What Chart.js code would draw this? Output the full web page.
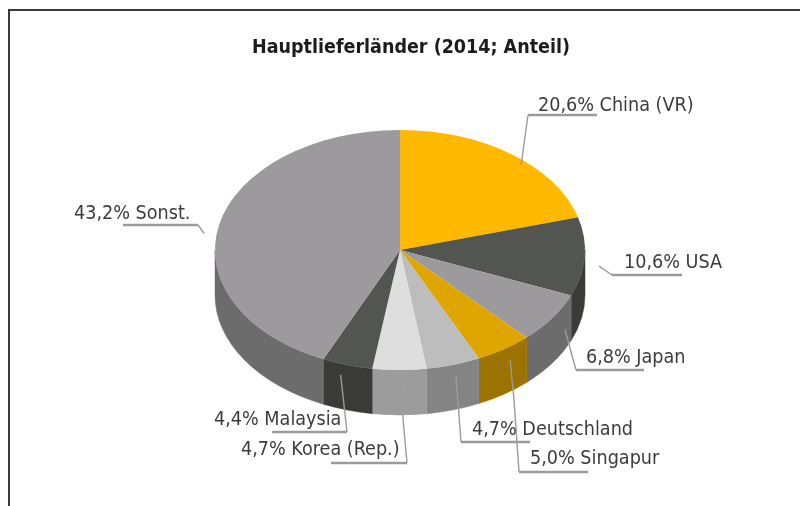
<!DOCTYPE html>
<html>
<head>
<meta charset="utf-8">
<script src="https://cdn.jsdelivr.net/npm/chart.js@4/dist/chart.umd.min.js"></script>
<style>
    html, body { margin: 0; background: #fff; overflow: hidden; }
    #frame { position: absolute; left: 8px; top: 9px; right: 0; bottom: 0;
             border-top: 2px solid #3a3a3a; border-left: 2px solid #3a3a3a; }
    canvas { position: absolute; left: 0; top: 0; filter: blur(0.45px); }
</style>
</head>
<body>
<div id="frame"></div>
<canvas id="chart" width="800" height="506"></canvas>
<script>
const titleText = 'Hauptlieferländer (2014; Anteil)';
const categories = ['China (VR)', 'USA', 'Japan', 'Singapur', 'Deutschland', 'Korea (Rep.)', 'Malaysia', 'Sonst.'];
const shares = [20.6, 10.6, 6.8, 5.0, 4.7, 4.7, 4.4, 43.2];
const topColors = ['#FFB900', '#535551', '#9C9A9C', '#DFA500', '#BDBDBD', '#DEDEDE', '#535551', '#9C9A9C'];
const sideColors = ['#B38200', '#3A3B38', '#6D6C6D', '#9C7300', '#848484', '#9C9C9C', '#3A3B38', '#6D6C6D'];

// Label layout: text left / centre y, nudge of the leader's start, then its bends.
const labelLayout = [
    { x: 538, y: 106, nudge: [4, 8], bends: [[528, 115], [597, 115]] },
    { x: 624, y: 263, nudge: [5, 1], bends: [[612, 275], [682, 275]] },
    { x: 586, y: 358, nudge: [5, 0], bends: [[576, 370], [644, 370]] },
    { x: 530, y: 459, nudge: [1, -2], bends: [[514, 400], [519, 472], [588, 472]] },
    { x: 472, y: 430, nudge: [0, -3], bends: [[461, 442], [530, 442]] },
    { x: 241, y: 450, nudge: [0, -10], bends: [[404, 430], [407, 463], [331, 463]] },
    { x: 214, y: 420, nudge: [-4, -4], bends: [[347, 432], [272, 432]] },
    { x: 74, y: 214, nudge: [-6, 2], bends: [[198, 225], [123, 225]] },
];

const squash = 120 / 185; // pie seen at an angle
const depth = 45;

const formatLabel = (i) => shares[i].toFixed(1).replace('.', ',') + '% ' + categories[i];

const pie3d = {
    id: 'pie3d',
    beforeDatasetsDraw(chart) {
        const ctx = chart.ctx;
        const arcs = chart.getDatasetMeta(0).data;
        const { x: cx, y: cy, outerRadius: rx } = arcs[0];
        const ry = rx * squash;

        // Side wall, only the front half of the rim shows.
        arcs.forEach((arc, i) => {
            const from = arc.startAngle;
            const to = arc.endAngle;
            [[0, Math.PI], [2 * Math.PI, 3 * Math.PI]].forEach(([lo, hi]) => {
                const a = Math.max(from, lo);
                const b = Math.min(to, hi);
                if (a >= b) return;
                ctx.beginPath();
                ctx.ellipse(cx, cy, rx, ry, 0, a, b);
                ctx.ellipse(cx, cy + depth, rx, ry, 0, b, a, true);
                ctx.closePath();
                ctx.fillStyle = sideColors[i];
                ctx.strokeStyle = sideColors[i];
                ctx.lineWidth = 0.5;
                ctx.fill();
                ctx.stroke();
            });
        });

        ctx.save();
        ctx.translate(cx, cy);
        ctx.scale(1, squash);
        ctx.translate(-cx, -cy);
    },
    afterDatasetsDraw(chart) {
        chart.ctx.restore();
    },
    afterDraw(chart) {
        const ctx = chart.ctx;
        const arcs = chart.getDatasetMeta(0).data;
        const { x: cx, y: cy, outerRadius: rx } = arcs[0];
        const ry = rx * squash;

        ctx.save();
        ctx.textBaseline = 'middle';
        ctx.textAlign = 'left';
        ctx.strokeStyle = '#9C9A9C';
        ctx.lineJoin = 'round';

        arcs.forEach((arc, i) => {
            const mid = (arc.startAngle + arc.endAngle) / 2;
            const spot = labelLayout[i];
            const points = [
                [cx + 1.05 * rx * Math.cos(mid) + spot.nudge[0], cy + 1.05 * ry * Math.sin(mid) + 8 + spot.nudge[1]],
                ...spot.bends,
            ];
            ctx.beginPath();
            ctx.lineWidth = 1.4;
            points.slice(0, -1).forEach(([x, y], k) => (k ? ctx.lineTo(x, y) : ctx.moveTo(x, y)));
            ctx.stroke();
            // last run under the text is heavier
            const [p, q] = points.slice(-2);
            ctx.beginPath();
            ctx.lineWidth = 2.4;
            ctx.moveTo(p[0], p[1]);
            ctx.lineTo(q[0], q[1]);
            ctx.stroke();
        });

        ctx.fillStyle = '#3c3c3c';
        ctx.font = '19.6px "DejaVu Sans Condensed", "DejaVu Sans"';
        arcs.forEach((arc, i) => {
            ctx.fillText(formatLabel(i), labelLayout[i].x, labelLayout[i].y);
        });

        ctx.fillStyle = '#1c1c1c';
        ctx.font = 'bold 19.5px "DejaVu Sans Condensed", "DejaVu Sans"';
        ctx.textAlign = 'center';
        ctx.fillText(titleText, 411, 48);
        ctx.restore();
    },
};

new Chart(document.getElementById('chart'), {
    type: 'pie',
    data: {
        labels: categories,
        datasets: [{
            data: shares,
            backgroundColor: topColors,
            borderColor: topColors,
            borderWidth: 0,
            clip: false,
        }],
    },
    options: {
        responsive: false,
        animation: false,
        layout: { padding: { left: 215, right: 215, top: 65, bottom: 71 } },
        plugins: { legend: { display: false }, title: { display: false }, tooltip: { enabled: false } },
    },
    plugins: [pie3d],
});
</script>
</body>
</html>
